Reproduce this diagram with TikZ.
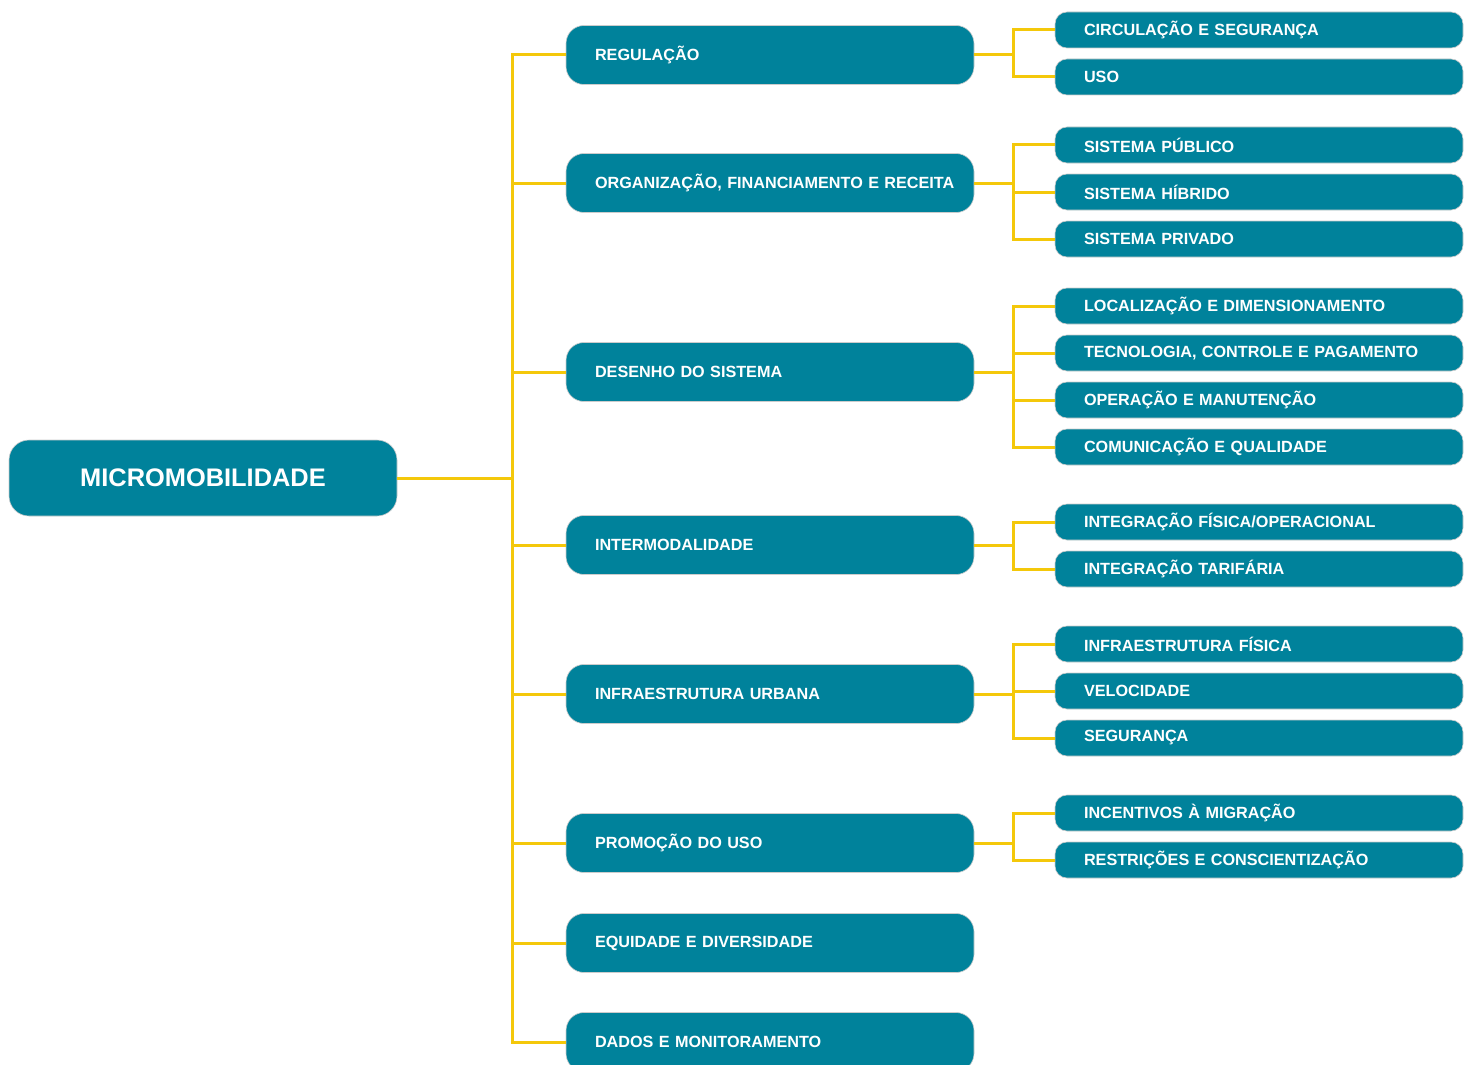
\documentclass[tikz,border=0pt]{standalone}
\usepackage{fontspec}
\setmainfont{Liberation Sans}
\definecolor{boxteal}{RGB}{0,130,155}
\definecolor{linkyellow}{RGB}{244,200,10}
\begin{document}
\begin{tikzpicture}[x=0.5pt,y=-0.5pt,
	every node/.style={fill=boxteal,text=white,font=\bfseries,draw=black!20,line width=0.3pt},
	root/.style={minimum width=194pt,minimum height=38pt,rounded corners=10pt,font=\bfseries\fontsize{12.7}{14}\selectfont},
	topic/.style={minimum width=204pt,minimum height=29.5pt,rounded corners=9pt,text width=188pt,inner xsep=8pt,align=left,
		execute at begin node=\hspace*{6.5pt},font=\bfseries\fontsize{8.1}{9.5}\selectfont},
	item/.style={minimum width=204pt,minimum height=18pt,rounded corners=6pt,text width=188pt,inner xsep=8pt,inner ysep=0pt,align=left,
		execute at begin node=\hspace*{6.5pt},font=\bfseries\fontsize{8.1}{9.5}\selectfont},
	link/.style={draw=linkyellow,line width=1.5pt}]
	\useasboundingbox (0,0) rectangle (1472,1065);
	% branch points
	\coordinate (trunk) at (512,478);
	\coordinate (b1) at (1013,55);
	\coordinate (b2) at (1013,183);
	\coordinate (b3) at (1013,372);
	\coordinate (b4) at (1013,545);
	\coordinate (b5) at (1013,694);
	\coordinate (b6) at (1013,843);
	% central node
	\node[root] (micro) at (203,478) {MICROMOBILIDADE};
	% topics
	\node[topic] (regul) at (770,55) {REGULAÇÃO};
	\node[topic] (organ) at (770,183) {ORGANIZAÇÃO, FINANCIAMENTO E RECEITA};
	\node[topic] (desenho) at (770,372) {DESENHO DO SISTEMA};
	\node[topic] (interm) at (770,545) {INTERMODALIDADE};
	\node[topic] (infra) at (770,694) {INFRAESTRUTURA URBANA};
	\node[topic] (promo) at (770,843) {PROMOÇÃO DO USO};
	\node[topic] (equid) at (770,943) {EQUIDADE E DIVERSIDADE};
	\node[topic] (dados) at (770,1042) {DADOS E MONITORAMENTO};
	% items
	\node[item] (circ) at (1259,30) {CIRCULAÇÃO E SEGURANÇA};
	\node[item] (uso) at (1259,77) {USO};
	\node[item] (publico) at (1259,145) {SISTEMA PÚBLICO};
	\node[item] (hibrido) at (1259,192) {SISTEMA HÍBRIDO};
	\node[item] (privado) at (1259,239) {SISTEMA PRIVADO};
	\node[item] (local) at (1259,306) {LOCALIZAÇÃO E DIMENSIONAMENTO};
	\node[item] (tecno) at (1259,353) {TECNOLOGIA, CONTROLE E PAGAMENTO};
	\node[item] (oper) at (1259,400) {OPERAÇÃO E MANUTENÇÃO};
	\node[item] (comun) at (1259,447) {COMUNICAÇÃO E QUALIDADE};
	\node[item] (fisop) at (1259,522) {INTEGRAÇÃO FÍSICA/OPERACIONAL};
	\node[item] (tarif) at (1259,569) {INTEGRAÇÃO TARIFÁRIA};
	\node[item] (infis) at (1259,644) {INFRAESTRUTURA FÍSICA};
	\node[item] (veloc) at (1259,691) {VELOCIDADE};
	\node[item] (segur) at (1259,738) {SEGURANÇA};
	\node[item] (incent) at (1259,813) {INCENTIVOS À MIGRAÇÃO};
	\node[item] (restr) at (1259,860) {RESTRIÇÕES E CONSCIENTIZAÇÃO};
	% trunk
	\draw[link] (micro.east) -- (trunk);
	\draw[link] (trunk) |- (regul.west);
	\draw[link] (trunk) |- (organ.west);
	\draw[link] (trunk) |- (desenho.west);
	\draw[link] (trunk) |- (interm.west);
	\draw[link] (trunk) |- (infra.west);
	\draw[link] (trunk) |- (promo.west);
	\draw[link] (trunk) |- (equid.west);
	\draw[link] (trunk) |- (dados.west);
	% branches
	\draw[link] (regul.east) -- (b1);
	\draw[link] (b1) |- (circ.west);
	\draw[link] (b1) |- (uso.west);
	\draw[link] (organ.east) -- (b2);
	\draw[link] (b2) |- (publico.west);
	\draw[link] (b2) |- (hibrido.west);
	\draw[link] (b2) |- (privado.west);
	\draw[link] (desenho.east) -- (b3);
	\draw[link] (b3) |- (local.west);
	\draw[link] (b3) |- (tecno.west);
	\draw[link] (b3) |- (oper.west);
	\draw[link] (b3) |- (comun.west);
	\draw[link] (interm.east) -- (b4);
	\draw[link] (b4) |- (fisop.west);
	\draw[link] (b4) |- (tarif.west);
	\draw[link] (infra.east) -- (b5);
	\draw[link] (b5) |- (infis.west);
	\draw[link] (b5) |- (veloc.west);
	\draw[link] (b5) |- (segur.west);
	\draw[link] (promo.east) -- (b6);
	\draw[link] (b6) |- (incent.west);
	\draw[link] (b6) |- (restr.west);
\end{tikzpicture}
\end{document}
